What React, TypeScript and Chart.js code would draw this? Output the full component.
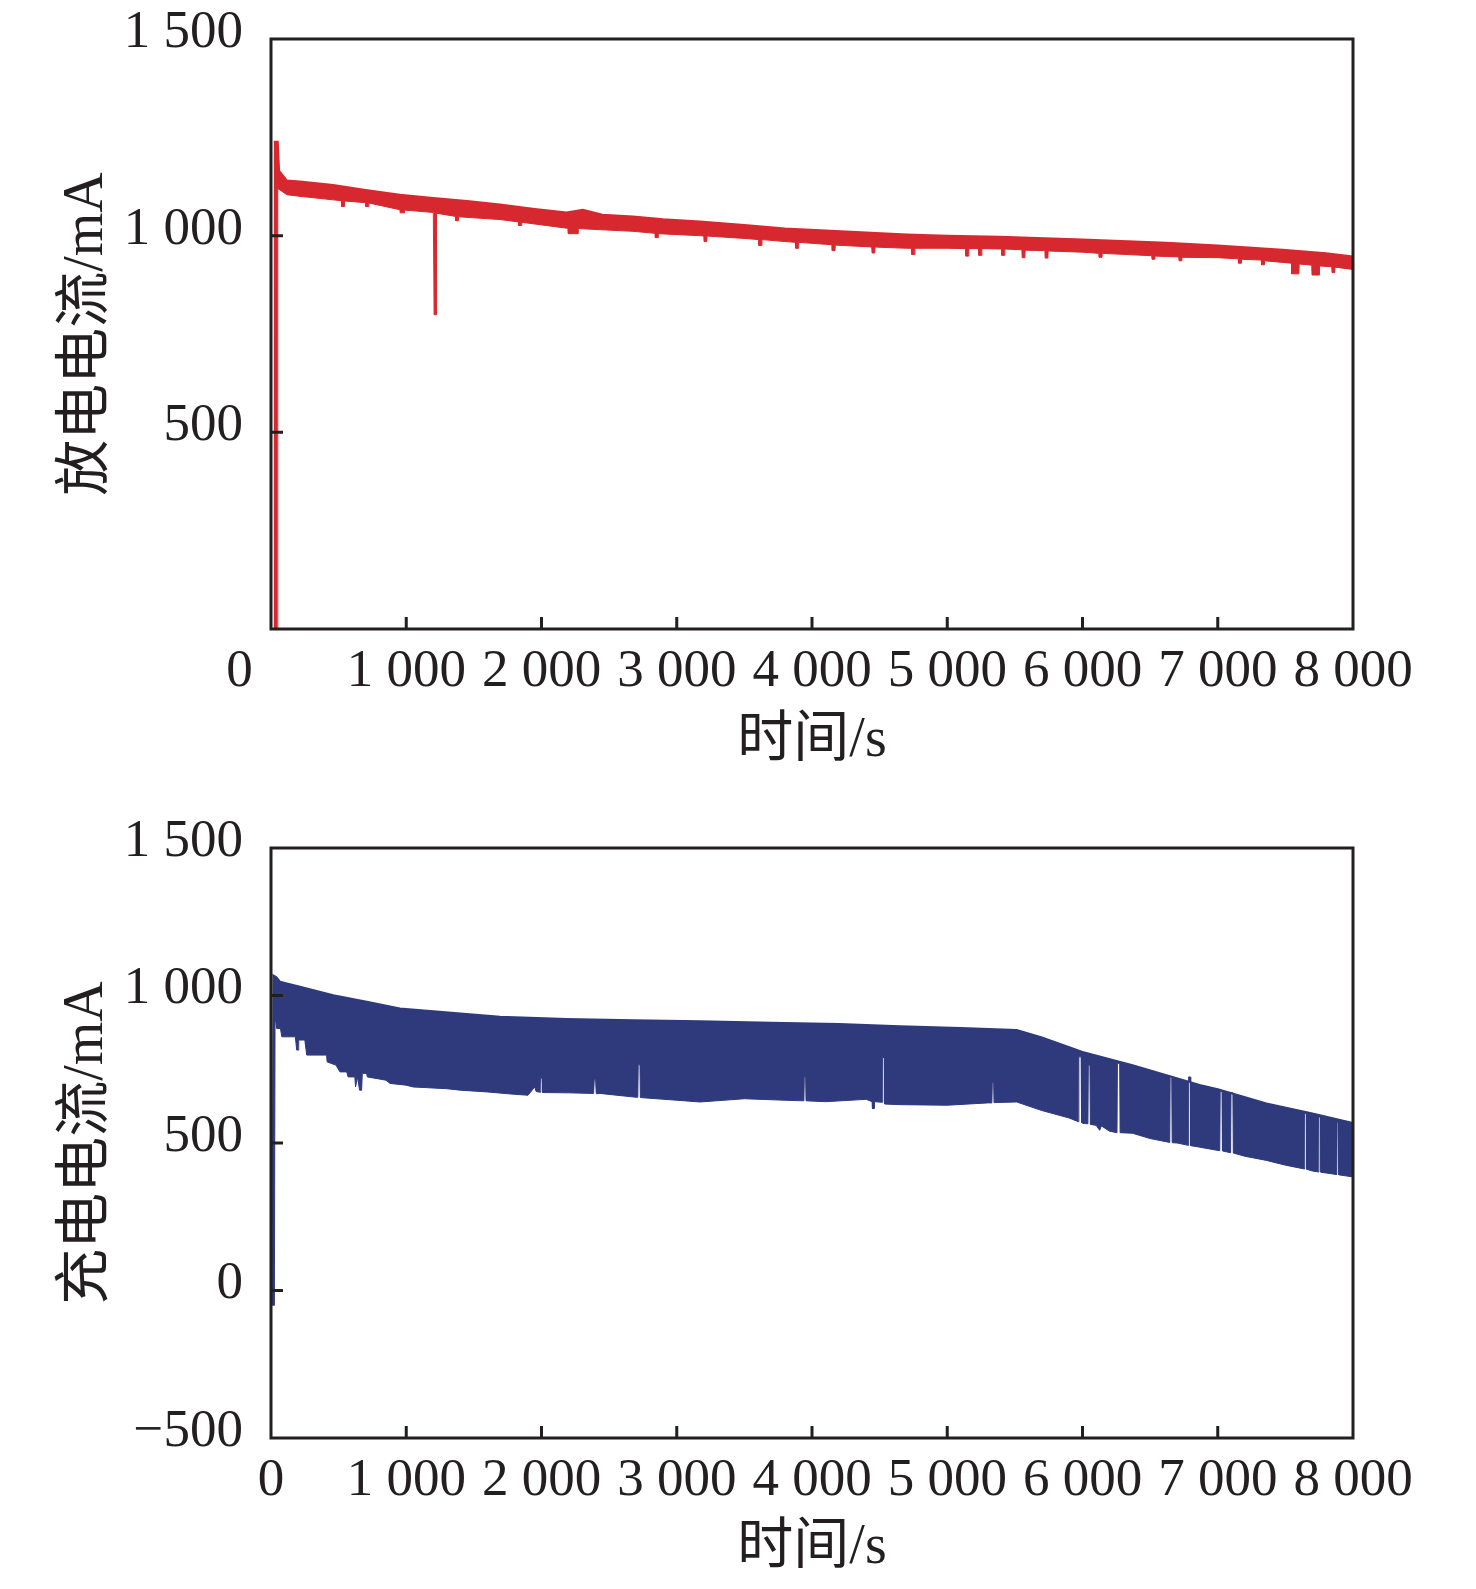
import { useEffect, useRef } from "react";
import Chart from "chart.js/auto";

const RED = "#d7282f";
const NAVY = "#2e3a7c";
const INK = "#231f20";
const FONT = "'Liberation Serif', 'Times New Roman', 'Noto Sans CJK SC', serif";

// discharge current (mA): upper and lower edge of the noisy trace
const dischargeUpperT = [25, 28, 50, 60, 118, 214, 460, 700, 953, 1200, 1450, 1693, 1950, 2186, 2306, 2450, 2677, 2900, 3171, 3500, 3800, 4100, 4400, 4700, 5000, 5388, 6000, 6620, 7000, 7480, 7800, 8000];
const dischargeUpperMA = [0, 1239, 1239, 1165, 1140, 1138, 1129, 1116, 1104, 1096, 1088, 1079, 1068, 1059, 1066, 1053, 1049, 1042, 1036, 1027, 1018, 1013, 1008, 1003, 1000, 997, 990, 982, 975, 964, 955, 947];
const dischargeLowerT = [
  25, 45, 50, 118, 214, 460, 520, 522, 542, 544, 700, 702, 722, 724, 953, 955, 985, 987,
  1200, 1204, 1206, 1222, 1224, 1365, 1367, 1385, 1387, 1693, 1830, 1832, 1852, 1854,
  2186, 2195, 2197, 2270, 2272, 2677, 2840, 2842, 2862, 2864, 3171, 3200, 3202, 3222, 3224,
  3500, 3606, 3608, 3628, 3630, 3800, 3878, 3880, 3900, 3902, 4100, 4148, 4150, 4170, 4172,
  4400, 4442, 4444, 4464, 4466, 4700, 4737, 4739, 4759, 4761, 5000, 5136, 5138, 5158, 5160,
  5232, 5234, 5254, 5256, 5388, 5402, 5404, 5424, 5426, 5552, 5554, 5574, 5576, 5722, 5724,
  5744, 5746, 6000, 6122, 6124, 6144, 6146, 6512, 6514, 6534, 6536, 6620, 6712, 6714, 6734,
  6736, 7000, 7152, 7154, 7174, 7176, 7322, 7324, 7344, 7346, 7480, 7545, 7547, 7600, 7602,
  7695, 7697, 7750, 7752, 7843, 7845, 7865, 7867, 8000,
];
const dischargeLowerMA = [
  0, 0, 1120, 1104, 1100, 1091, 1089, 1074, 1074, 1088, 1084, 1074, 1074, 1083, 1066, 1058, 1058, 1065,
  1059, 1059, 799, 799, 1057, 1049, 1038, 1038, 1048, 1041, 1035, 1026, 1026, 1034,
  1019, 1019, 1005, 1005, 1018, 1011, 1006, 995, 995, 1005, 1000, 999, 985, 985, 999,
  993, 990, 975, 975, 990, 985, 983, 968, 968, 983, 978, 977, 962, 962, 976,
  972, 971, 956, 956, 971, 968, 968, 952, 952, 968, 968, 967, 948, 948, 967,
  967, 950, 950, 967, 966, 966, 950, 950, 966, 964, 944, 944, 963, 962, 943,
  943, 961, 958, 955, 945, 945, 955, 949, 940, 940, 948, 947, 946, 936, 936,
  945, 944, 941, 930, 930, 940, 938, 926, 926, 936, 932, 930, 903, 903, 928,
  925, 900, 900, 923, 921, 906, 906, 920, 914,
];

// charge current (mA): upper and lower edge of the band
const chargeUpperT = [12, 18, 40, 66, 214, 460, 708, 953, 1200, 1446, 1693, 2186, 2677, 3171, 3700, 4200, 4649, 5100, 5513, 5700, 6000, 6370, 6866, 7000, 7360, 7700, 8000];
const chargeUpperMA = [-50, 1068, 1062, 1047, 1030, 1001, 979, 956, 947, 937, 928, 920, 916, 913, 908, 903, 896, 890, 883, 858, 809, 764, 697, 682, 634, 600, 568];
const chargeLowerT = [
  12, 25, 30, 42, 70, 80, 180, 190, 200, 205, 250, 264, 411, 415, 480, 510, 560, 570, 620, 625,
  640, 655, 670, 675, 707, 712, 850, 880, 1000, 1050, 1300, 1400, 1600, 1800, 1900, 1950, 1960,
  1990, 1995, 2005, 2010, 2200, 2385, 2390, 2400, 2405, 2433, 2700, 2712, 2715, 2728, 2731,
  3000, 3172, 3500, 3800, 3940, 3943, 3953, 3956, 4100, 4400, 4445, 4447, 4460, 4462, 4520,
  4523, 4535, 4538, 4649, 5000, 5300, 5330, 5333, 5343, 5346, 5513, 5700, 5900, 5970, 5973,
  5990, 5993, 6000, 6040, 6043, 6055, 6058, 6100, 6127, 6140, 6200, 6255, 6258, 6275, 6278,
  6370, 6500, 6645, 6648, 6660, 6663, 6700, 6782, 6785, 6797, 6800, 6866, 7000, 7015, 7018,
  7032, 7035, 7095, 7098, 7112, 7115, 7200, 7360, 7500, 7640, 7643, 7655, 7658, 7700, 7745,
  7748, 7760, 7763, 7850, 7880, 7883, 7893, 7896, 8000,
];
const chargeLowerMA = [
  -50, -50, 930, 888, 888, 860, 860, 815, 815, 849, 849, 798, 798, 775, 764, 741, 741, 724, 724, 690,
  724, 679, 679, 736, 736, 724, 713, 702, 696, 690, 684, 679, 673, 665, 662, 690, 675,
  672, 720, 720, 671, 670, 668, 715, 715, 667, 668, 655, 655, 765, 765, 654,
  645, 639, 650, 645, 643, 725, 725, 643, 640, 648, 640, 617, 617, 640, 638,
  790, 790, 632, 630, 628, 636, 636, 705, 705, 637, 639, 610, 585, 572, 792,
  792, 570, 567, 565, 764, 764, 563, 560, 543, 558, 540, 535, 770, 770, 535,
  533, 515, 502, 724, 724, 501, 500, 492, 724, 724, 491, 486, 475, 474, 675,
  675, 473, 467, 670, 670, 466, 455, 441, 425, 412, 600, 600, 411, 405, 402,
  588, 588, 401, 395, 393, 571, 571, 392, 385,
];

const timeStep = 1000;
const currentStep = 500;

function fmt(v: number) {
  const s = String(Math.abs(v)).replace(/\B(?=(\d{3})+(?!\d))/g, " ");
  return v < 0 ? "\u2212" + s : s;
}

function pts(t: number[], v: number[]) {
  return t.map((x, i) => ({ x, y: v[i] }));
}

// box, inward tick marks and the shifted corner "0"
const frame = {
  id: "frame",
  afterDatasetsDraw(chart: any, _args: any, opts: any) {
    const { ctx, chartArea } = chart;
    const { left, top, right, bottom } = chartArea;
    const xs = chart.scales.x;
    const ys = chart.scales.y;
    ctx.save();
    ctx.strokeStyle = INK;
    ctx.lineWidth = 3;
    ctx.beginPath();
    xs.ticks.forEach((t: any) => {
      if (t.value <= xs.min || t.value >= xs.max) return;
      const px = xs.getPixelForValue(t.value);
      ctx.moveTo(px, bottom);
      ctx.lineTo(px, bottom - 12);
    });
    ys.ticks.forEach((t: any) => {
      if (t.value <= ys.min || t.value >= ys.max) return;
      const py = ys.getPixelForValue(t.value);
      ctx.moveTo(left, py);
      ctx.lineTo(left + 12, py);
    });
    ctx.stroke();
    ctx.strokeRect(left, top, right - left, bottom - top);
    if (opts && opts.cornerZero) {
      const items = xs.getLabelItems ? xs.getLabelItems() : [];
      const item = items.find((it: any) => it.label !== "" && it.label !== undefined);
      if (item) {
        ctx.font = item.font.string;
        ctx.fillStyle = INK;
        ctx.textAlign = "center";
        ctx.textBaseline = item.options.textBaseline;
        ctx.fillText("0", xs.getPixelForValue(0) - 31.5, item.options.translation[1] + item.textOffset);
      }
    }
    ctx.restore();
  },
};

type PanelProps = {
  width: number;
  height: number;
  top: number;
  color: string;
  upper: { x: number; y: number }[];
  lower: { x: number; y: number }[];
  yMin: number;
  yMax: number;
  yTitle: string;
  plotTop: number;
  plotBottom: number;
  titleBottomPad: number;
  cornerZero: boolean;
};

function Panel(p: PanelProps) {
  const ref = useRef<HTMLCanvasElement | null>(null);

  useEffect(() => {
    if (!ref.current) return;
    const tickFont = { family: FONT, size: 53 };
    const titleFont = { family: FONT, size: 56 };
    const chart = new Chart(ref.current, {
      type: "line",
      data: {
        datasets: [
          {
            data: p.upper,
            borderColor: p.color,
            backgroundColor: p.color,
            borderWidth: 2,
            pointRadius: 0,
            fill: "+1",
          },
          {
            data: p.lower,
            borderColor: p.color,
            backgroundColor: p.color,
            borderWidth: 1,
            pointRadius: 0,
            fill: false,
          },
        ],
      },
      options: {
        animation: false,
        responsive: false,
        events: [],
        layout: { padding: { top: p.plotTop, right: 123, left: 0, bottom: 0 } },
        plugins: {
          legend: { display: false },
          tooltip: { enabled: false },
          frame: { cornerZero: p.cornerZero },
        } as any,
        scales: {
          x: {
            type: "linear",
            min: 0,
            max: 8000,
            grid: { display: false },
            border: { display: false },
            ticks: {
              stepSize: timeStep,
              autoSkip: false,
              maxRotation: 0,
              padding: 3,
              color: INK,
              font: tickFont,
              callback: (v: any) => (p.cornerZero && v === 0 ? "" : fmt(v)),
            },
            title: {
              display: true,
              text: "时间/s",
              color: INK,
              font: titleFont,
              padding: { top: 0, bottom: p.titleBottomPad },
            },
            afterFit: (s: any) => {
              s.height = p.height - p.plotBottom;
              s.paddingLeft = 0;
              s.paddingRight = 0;
            },
          },
          y: {
            min: p.yMin,
            max: p.yMax,
            grid: { display: false },
            border: { display: false },
            ticks: {
              stepSize: currentStep,
              padding: 20,
              labelOffset: -6,
              color: INK,
              font: tickFont,
              callback: (v: any) => (p.cornerZero && v === 0 ? "" : fmt(v)),
            },
            title: {
              display: true,
              text: p.yTitle,
              color: INK,
              font: titleFont,
              padding: { top: 54, bottom: 0 },
            },
            afterFit: (s: any) => {
              s.width = 271;
              s.paddingTop = 0;
              s.paddingBottom = 0;
            },
          },
        },
      } as any,
      plugins: [frame as any],
    });
    return () => chart.destroy();
  }, []);

  return (
    <canvas
      ref={ref}
      width={p.width}
      height={p.height}
      style={{ position: "absolute", left: 0, top: p.top, width: p.width, height: p.height }}
    />
  );
}

export default function App() {
  return (
    <div style={{ position: "absolute", left: 0, top: 0, width: 1476, height: 1589, background: "#fff" }}>
      <Panel
        width={1476}
        height={790}
        top={0}
        color={RED}
        upper={pts(dischargeUpperT, dischargeUpperMA)}
        lower={pts(dischargeLowerT, dischargeLowerMA)}
        yMin={0}
        yMax={1500}
        yTitle="放电电流/mA"
        plotTop={39}
        plotBottom={629}
        titleBottomPad={15}
        cornerZero={true}
      />
      <Panel
        width={1476}
        height={799}
        top={790}
        color={NAVY}
        upper={pts(chargeUpperT, chargeUpperMA)}
        lower={pts(chargeLowerT, chargeLowerMA)}
        yMin={-500}
        yMax={1500}
        yTitle="充电电流/mA"
        plotTop={58}
        plotBottom={648}
        titleBottomPad={7}
        cornerZero={false}
      />
    </div>
  );
}
